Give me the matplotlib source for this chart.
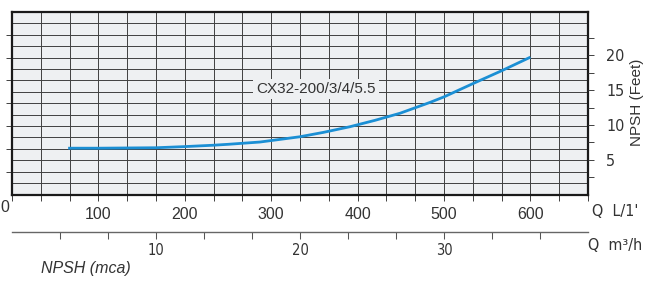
import numpy as np
import matplotlib.pyplot as plt
from matplotlib.ticker import MultipleLocator, FixedLocator, FuncFormatter

# NPSH curve (flow in L/min, NPSH in m)
flow_lpm = [65, 100, 167, 200, 233, 250, 287, 333, 360, 391, 420, 449, 484, 500, 534, 567, 600]
npsh_m = [2.03, 2.03, 2.05, 2.10, 2.16, 2.20, 2.30, 2.53, 2.72, 2.97, 3.25, 3.56, 4.04, 4.28, 4.87, 5.43, 6.02]

q_lpm_labels = [100, 200, 300, 400, 500, 600]
q_m3h_labels = [10, 20, 30]
feet_labels = [5, 10, 15, 20]
curve_name = "CX32-200/3/4/5.5"

W, H = 655, 284
BG = "#eef0f2"
GRID = "#404040"
BLUE = "#1b8fd4"
TXT = "#333333"
NARROW = ["DejaVu Sans"]
SANS = ["Liberation Sans", "DejaVu Sans"]

fig = plt.figure(figsize=(W / 100, H / 100), dpi=100)

x0, x1, y0, y1 = 12, 588, 12, 194.5
ax = fig.add_axes([x0 / W, 1 - y1 / H, (x1 - x0) / W, (y1 - y0) / H])
ax.set_facecolor(BG)
ax.set_xlim(0, 2000 / 3)
ax.set_ylim(0, 8)

# grid: every 2 m3/h on x, every 0.5 m on y
ax.xaxis.set_major_locator(MultipleLocator(100 / 3))
ax.yaxis.set_major_locator(FixedLocator(range(1, 8)))
ax.yaxis.set_minor_locator(MultipleLocator(0.5))
ax.grid(which="both", color=GRID, linewidth=0.7)
ax.set_axisbelow(True)


def lpm_fmt(v, pos):
    r = round(v)
    if abs(v - r) < 1e-6 and r in q_lpm_labels:
        return str(r)
    return ""


ax.xaxis.set_major_formatter(FuncFormatter(lpm_fmt))
ax.tick_params(axis="x", which="major", direction="out", length=4, width=0.7,
               color=GRID, pad=5, labelsize=11.5, labelcolor=TXT)
ax.tick_params(axis="y", which="major", direction="out", length=4, width=0.7,
               color=GRID, labelleft=False)
ax.tick_params(axis="y", which="minor", length=0)
for lab in ax.get_xticklabels():
    lab.set_family(SANS)

for s in ax.spines.values():
    s.set_linewidth(1.6)
    s.set_color("#1a1a1a")
    s.set_zorder(4)

ax.plot(flow_lpm, npsh_m, color=BLUE, linewidth=2.0, solid_capstyle="butt",
        solid_joinstyle="round", zorder=3)

ax.text(352, 4.62, curve_name, ha="center", va="center", fontsize=11,
        family=SANS, color=TXT, zorder=3,
        bbox=dict(boxstyle="square,pad=0.2", facecolor=BG, edgecolor="none"))

# right axis in feet
axr = ax.twinx()
axr.set_ylim(0, 8 * 3.28084)
axr.yaxis.set_major_locator(FixedLocator(feet_labels))
axr.yaxis.set_minor_locator(FixedLocator([2.5, 7.5, 12.5, 17.5, 22.5]))
axr.tick_params(axis="y", which="both", direction="out", length=4, width=0.7,
                color=GRID, pad=9, labelsize=11.5, labelcolor=TXT)
for lab in axr.get_yticklabels():
    lab.set_family(NARROW)
    lab.set_fontstretch("condensed")
for s in axr.spines.values():
    s.set_visible(False)

# lower axis in m3/h
ly = 232
axb = fig.add_axes([x0 / W, 1 - ly / H, (x1 - x0) / W, 0.001])
axb.set_facecolor("none")
axb.set_xlim(0, 40)
for side in ["top", "left", "right"]:
    axb.spines[side].set_visible(False)
axb.spines["bottom"].set_color("#666666")
axb.spines["bottom"].set_linewidth(1.0)
axb.set_yticks([])
axb.xaxis.set_major_locator(FixedLocator(q_m3h_labels))
axb.xaxis.set_minor_locator(FixedLocator([k * 10 / 3 for k in range(1, 12) if k % 3]))
axb.tick_params(axis="x", which="both", direction="out", length=5, width=0.75,
                color="#555555", pad=3, labelsize=10.5, labelcolor=TXT)
for lab in axb.get_xticklabels():
    lab.set_family(NARROW)
    lab.set_fontstretch("condensed")

# free labels
fig.text(0, 1 - 208 / H, "0", ha="left", va="center", fontsize=11.5,
         family=SANS, color=TXT)
fig.text(592 / W, 1 - 211 / H, "Q  L/1'", ha="left", va="center", fontsize=11.5,
         family=NARROW, stretch="condensed", color=TXT)
fig.text(588 / W, 1 - 246 / H, "Q  m³/h", ha="left", va="center", fontsize=11.5,
         family=NARROW, stretch="condensed", color=TXT)
fig.text(637 / W, 1 - 102 / H, "NPSH (Feet)", ha="center", va="center",
         rotation=90, fontsize=11, family=SANS, color=TXT)
fig.text(41 / W, 1 - 268 / H, "NPSH (mca)", ha="left", va="center",
         fontsize=11.5, family=SANS, style="italic", color=TXT)

fig.savefig("out.png", dpi=100)
